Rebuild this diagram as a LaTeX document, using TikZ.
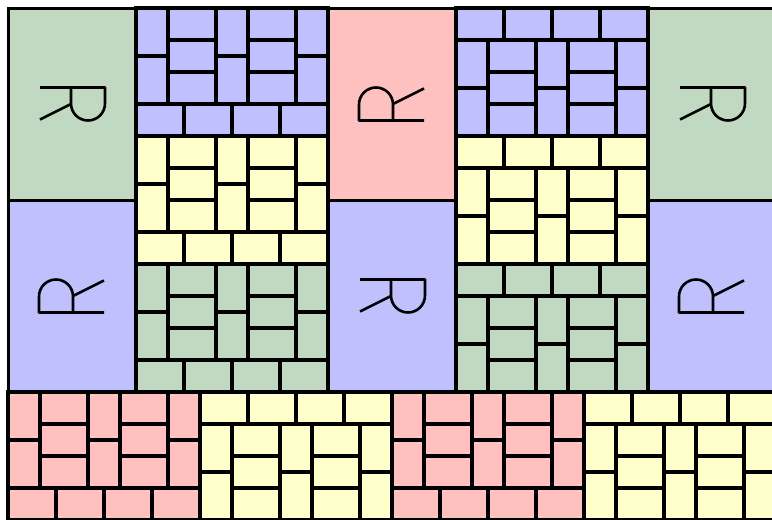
\documentclass[tikz,border=0pt]{standalone}
\usepackage{xcolor}
\usepackage{tikz}

\definecolor{tileblue}{RGB}{192,192,255}
\definecolor{tilegreen}{RGB}{192,217,192}
\definecolor{tilered}{RGB}{255,192,192}
\definecolor{tileyellow}{RGB}{255,255,204}

\begin{document}
\begin{tikzpicture}[
  x=1pt, y=-1pt,
  brick/.style={draw=black, line width=3.2pt},
  panel/.style={draw=black, line width=3pt},
  glyph/.style={draw=black, line width=2.6pt, line join=round},
  pics/bricks/.style={code={
    \foreach \bx in {-96,-16,64} {
      \foreach \by in {-64,-16} {\filldraw[brick, fill=#1] (\bx,\by) rectangle ++(32,48);}
    }
    \foreach \bx in {-64,16} {
      \foreach \by in {-64,-32,0} {\filldraw[brick, fill=#1] (\bx,\by) rectangle ++(48,32);}
    }
    \foreach \bx in {-96,-48,0,48} {\filldraw[brick, fill=#1] (\bx,32) rectangle ++(48,32);}
  }},
  pics/rglyph/.style={code={
    \draw[glyph] (-32,-16.5) -- (33,-16.5) -- (33,-0.5) arc[start angle=0, end angle=180, radius=17] -- (-1,-16.5);
    \draw[glyph] (-1,0) -- (-32,15.5);
  }}
]
  \useasboundingbox (0,0) rectangle (772,520);
  \clip (0,0) rectangle (772,520);

  \foreach \px/\py/\pc/\rot in {8/8/tilegreen/0, 8/200/tileblue/180, 328/8/tilered/180,
      328/200/tileblue/0, 648/8/tilegreen/0, 648/200/tileblue/180} {
    \filldraw[panel, fill=\pc] (\px,\py) rectangle ++(128,192);
    \pic[rotate=\rot] at (\px+64,\py+96) {rglyph};
  }

  \foreach \tx/\ty/\tc/\flip in {136/8/tileblue/1, 136/136/tileyellow/1, 136/264/tilegreen/1,
      456/8/tileblue/-1, 456/136/tileyellow/-1, 456/264/tilegreen/-1,
      8/392/tilered/1, 200/392/tileyellow/-1, 392/392/tilered/1, 584/392/tileyellow/-1} {
    \pic[yscale=\flip] at (\tx+96,\ty+64) {bricks=\tc};
  }
\end{tikzpicture}
\end{document}
